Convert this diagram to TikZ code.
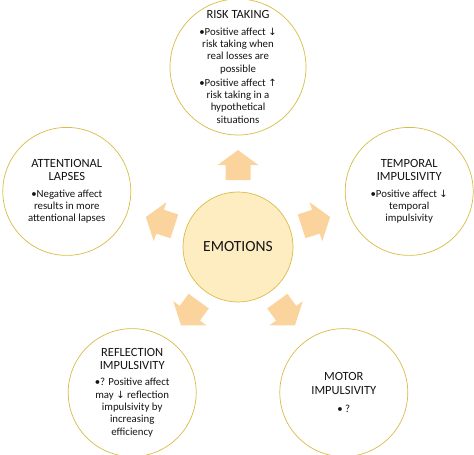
\documentclass[tikz,border=0pt]{standalone}
\usepackage{fontspec}
\setmainfont{Carlito}
\newfontfamily\arrfont{DejaVu Sans}
\usetikzlibrary{calc}

\definecolor{gold}{RGB}{216,188,70}
\definecolor{emofill}{RGB}{255,237,194}
\definecolor{arrfill}{RGB}{250,212,156}
\definecolor{ink}{RGB}{20,20,20}

\newcommand{\ttl}{\fontsize{12.5}{14}\selectfont}
\newcommand{\dn}{{\arrfont\fontsize{10}{12}\selectfont ↓}}
\newcommand{\up}{{\arrfont\fontsize{10}{12}\selectfont ↑}}

\tikzset{
  outer/.style={circle,draw=gold,line width=0.7pt,fill=white,inner sep=0pt},
  txt/.style={align=center,text=ink,inner sep=0pt,font=\fontsize{10.8}{12.3}\selectfont},
  pics/outarrow/.style={code={
    \fill[arrfill] (-15,-12.5) -- (0,-12.5) -- (0,-20.5) -- (15,0) -- (0,20.5) -- (0,12.5) -- (-15,12.5) -- cycle;
  }}
}

\begin{document}
\begin{tikzpicture}[x=1pt,y=1pt,line cap=round,line join=round]
  \useasboundingbox (0,0) rectangle (474,455);
  \node[outer,fill=emofill,minimum size=110pt] (emo) at (238,208) {};
  \node[outer,minimum size=136pt] (risk) at (238,388) {};
  \node[outer,minimum size=128pt] (attn) at (66.8,263.6) {};
  \node[outer,minimum size=128pt] (temp) at (409.2,263.6) {};
  \node[outer,minimum size=128pt] (refl) at (132.2,62.4) {};
  \node[outer,minimum size=128pt] (motor) at (343.8,62.4) {};
  \pic[rotate=90] at ($(emo)!.455!(risk)$) {outarrow};
  \pic[rotate=162] at ($(emo)!.455!(attn)$) {outarrow};
  \pic[rotate=18] at ($(emo)!.455!(temp)$) {outarrow};
  \pic[rotate=234] at ($(emo)!.455!(refl)$) {outarrow};
  \pic[rotate=306] at ($(emo)!.455!(motor)$) {outarrow};
  \node[txt,font=\fontsize{15.5}{18}\selectfont] (emot) at (emo) {EMOTIONS};
  \node[txt] (riskt) at (risk) {{\ttl RISK TAKING}\\[4pt]
    \textbullet Positive affect \dn\\ risk taking when\\ real losses are\\ possible\\[2pt]
    \textbullet Positive affect \up\\ risk taking in a\\ hypothetical\\ situations};
  \node[txt] (attnt) at (attn) {{\ttl ATTENTIONAL}\\[1pt]{\ttl LAPSES}\\[4pt]
    \textbullet Negative affect\\ results in more\\ attentional lapses};
  \node[txt] (tempt) at (temp) {{\ttl TEMPORAL}\\[1pt]{\ttl IMPULSIVITY}\\[4pt]
    \textbullet Positive affect \dn\\ temporal\\ impulsivity};
  \node[txt] (reflt) at (refl) {{\ttl REFLECTION}\\[1pt]{\ttl IMPULSIVITY}\\[4pt]
    \textbullet? Positive affect\\ may \dn{} reflection\\ impulsivity by\\ increasing\\ efficiency};
  \node[txt] (motort) at (motor) {{\ttl MOTOR}\\[1pt]{\ttl IMPULSIVITY}\\[6pt]
    \textbullet{} ?};
\end{tikzpicture}
\end{document}
